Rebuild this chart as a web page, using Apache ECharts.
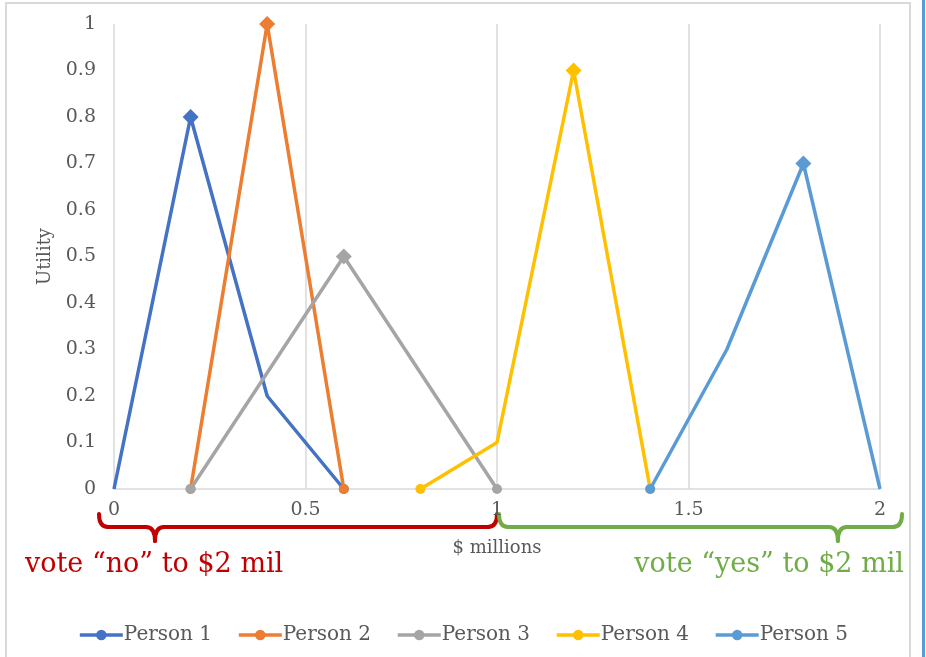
<!DOCTYPE html>
<html>
<head>
<meta charset="utf-8">
<script src="https://cdn.jsdelivr.net/npm/echarts@6/dist/echarts.min.js"></script>
<style>
  html, body { margin: 0; padding: 0; background: #fff; }
  #chart { width: 926px; height: 657px; }
</style>
</head>
<body>
<div id="chart"></div>
<script>
// Utility curves of five voters over spending levels ($ millions)
const seriesNames = ['Person 1', 'Person 2', 'Person 3', 'Person 4', 'Person 5'];

const p1X = [0, 0.2, 0.4, 0.6];
const p1Y = [0, 0.8, 0.2, 0];
const p2X = [0.2, 0.4, 0.6];
const p2Y = [0, 1, 0];
const p3X = [0.2, 0.6, 1.0];
const p3Y = [0, 0.5, 0];
const p4X = [0.8, 1.0, 1.2, 1.4];
const p4Y = [0, 0.1, 0.9, 0];
const p5X = [1.4, 1.6, 1.8, 2.0];
const p5Y = [0, 0.3, 0.7, 0];

// marker shape drawn at each point of each curve
const p1Marks = ['none', 'diamond', 'none', 'circle'];
const p2Marks = ['circle', 'diamond', 'circle'];
const p3Marks = ['circle', 'diamond', 'circle'];
const p4Marks = ['circle', 'none', 'diamond', 'circle'];
const p5Marks = ['circle', 'none', 'diamond', 'none'];

const xTicks = [0, 0.5, 1, 1.5, 2];
const noLabel = 'vote \u201cno\u201d to $2 mil';
const yesLabel = 'vote \u201cyes\u201d to $2 mil';

const colors = ['#4472C4', '#ED7D31', '#A5A5A5', '#FFC000', '#5B9BD5'];
const FONT = 'DejaVu Serif';

function buildData(xs, ys, marks) {
  return xs.map((x, i) => ({
    value: [x, ys[i]],
    symbol: marks[i],
    symbolSize: marks[i] === 'diamond' ? 16 : 10
  }));
}

const allX = [p1X, p2X, p3X, p4X, p5X];
const allY = [p1Y, p2Y, p3Y, p4Y, p5Y];
const allMarks = [p1Marks, p2Marks, p3Marks, p4Marks, p5Marks];

const chart = echarts.init(document.getElementById('chart'), null, { renderer: 'canvas' });

const option = {
  backgroundColor: '#fff',
  animation: false,
  color: colors,
  grid: { left: 114, right: 46, top: 24, bottom: 168, containLabel: false },
  legend: {
    bottom: 7,
    left: 'center',
    itemWidth: 43,
    itemHeight: 13,
    itemGap: 25,
    lineStyle: { width: 3.5 },
    textStyle: { fontFamily: FONT, fontSize: 20, color: '#595959', padding: [0, 0, 0, -4] },
    data: seriesNames
  },
  xAxis: {
    type: 'value',
    min: 0, max: 2, interval: 0.5,
    name: '$ millions',
    nameLocation: 'middle',
    nameGap: 50,
    nameTextStyle: { fontFamily: FONT, fontSize: 18, color: '#595959' },
    axisLine: { show: true, lineStyle: { color: '#d9d9d9', width: 1.5 } },
    axisTick: { show: false },
    splitLine: { show: true, lineStyle: { color: '#d9d9d9', width: 1.5 } },
    axisLabel: {
      fontFamily: FONT, fontSize: 19, color: '#595959', margin: 12,
      formatter: v => xTicks.includes(v) ? String(v) : ''
    }
  },
  yAxis: {
    type: 'value',
    min: 0, max: 1, interval: 0.1,
    name: 'Utility',
    nameLocation: 'middle',
    nameGap: 60,
    nameTextStyle: { fontFamily: FONT, fontSize: 18, color: '#595959' },
    axisLine: { show: false },
    axisTick: { show: false },
    splitLine: { show: false },
    axisLabel: {
      fontFamily: FONT, fontSize: 19, color: '#595959', margin: 18,
      formatter: v => String(Math.round(v * 10) / 10)
    }
  },
  series: seriesNames.map((name, i) => ({
    name,
    type: 'line',
    symbol: 'circle',
    symbolSize: 10,
    showAllSymbol: true,
    lineStyle: { width: 3.5, color: colors[i] },
    itemStyle: { color: colors[i] },
    data: buildData(allX[i], allY[i], allMarks[i]),
    z: 2 + i
  }))
};

chart.setOption(option);

// Braces and captions under the x axis, placed from axis coordinates
function px(x, y) { return chart.convertToPixel({ gridIndex: 0 }, [x, y]); }

// a curly brace made of straight runs and quadratic curls
function braceParts(x0, x1, xc, yTop, yLine, yTip, color) {
  const r = 9;
  const st = { stroke: color, lineWidth: 4, fill: 'none', lineCap: 'round' };
  const curve = (ax, ay, cx, cy, bx, by) => ({
    type: 'bezierCurve', silent: true,
    shape: { x1: ax, y1: ay, cpx1: cx, cpy1: cy, x2: bx, y2: by }, style: st
  });
  const line = (ax, ay, bx, by) => ({
    type: 'line', silent: true,
    shape: { x1: ax, y1: ay, x2: bx, y2: by }, style: st
  });
  return [
    curve(x0, yTop, x0, yLine, x0 + r, yLine),
    line(x0 + r, yLine, xc - r, yLine),
    curve(xc - r, yLine, xc, yLine, xc, yTip),
    curve(xc, yTip, xc, yLine, xc + r, yLine),
    line(xc + r, yLine, x1 - r, yLine),
    curve(x1 - r, yLine, x1, yLine, x1, yTop)
  ];
}

const base = px(0, 0)[1];
const xa = px(0, 0)[0], xb = px(1, 0)[0], xe = px(2, 0)[0];
const unit = xb - xa;
const yTop = base + 25, yLine = base + 38, yTip = base + 52;

const graphics = [
  { type: 'rect', silent: true, z: -1,
    shape: { x: 6, y: 3, width: 904, height: 700 },
    style: { fill: 'none', stroke: '#d9d9d9', lineWidth: 2 } },
  { type: 'rect', silent: true,
    shape: { x: 922, y: 0, width: 3, height: 657 },
    style: { fill: '#5B9BD5' } },
  { type: 'text', silent: true, left: 25, top: base + 62,
    style: { text: noLabel, fontFamily: FONT, fontSize: 27, fill: '#C00000' } },
  { type: 'text', silent: true, right: 22, top: base + 62,
    style: { text: yesLabel, fontFamily: FONT, fontSize: 27, fill: '#70AD47' } }
].concat(
  braceParts(xa - 15, xb, xa + 0.107 * unit, yTop, yLine, yTip, '#C00000'),
  braceParts(xb + 2, xe + 22, xb + 0.89 * unit, yTop, yLine, yTip, '#70AD47')
);

chart.setOption({ graphic: graphics });
</script>
</body>
</html>
